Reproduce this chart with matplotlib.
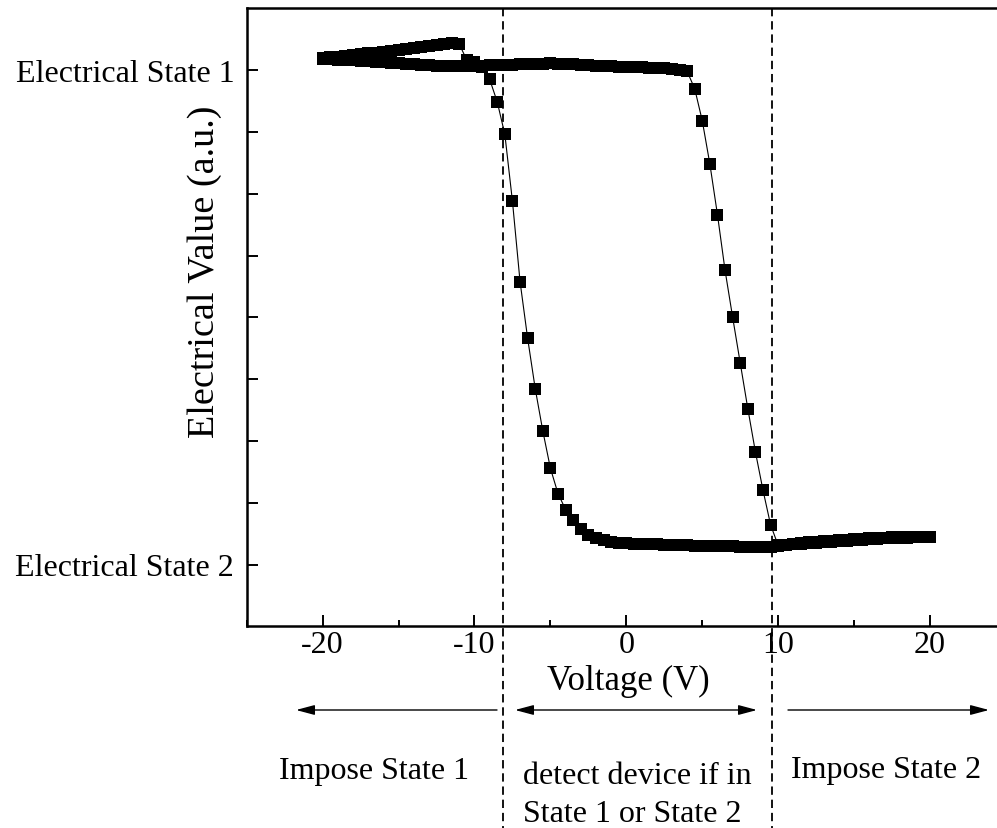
import matplotlib
matplotlib.use("Agg")
import matplotlib.pyplot as plt

plt.rcParams['font.family'] = ['Liberation Serif', 'DejaVu Serif']
plt.rcParams['axes.unicode_minus'] = False
plt.rcParams['lines.scale_dashes'] = False

# ---------------- data ----------------
# forward sweep (-20 V -> +20 V)
voltage_fwd = [-20.0, -19.5, -19.0, -18.5, -18.0, -17.5, -17.0, -16.5, -16.0, -15.5,
               -15.0, -14.5, -14.0, -13.5, -13.0, -12.5, -12.0, -11.5, -11.0, -10.5,
               -10.0, -9.5, -9.0, -8.5, -8.0, -7.5, -7.0, -6.5, -6.0, -5.5,
               -5.0, -4.5, -4.0, -3.5, -3.0, -2.5, -2.0, -1.5, -1.0, -0.5,
               0.0, 0.5, 1.0, 1.5, 2.0, 2.5, 3.0, 3.5, 4.0, 4.5,
               5.0, 5.5, 6.0, 6.5, 7.0, 7.5, 8.0, 8.5, 9.0, 9.5,
               10.0, 10.5, 11.0, 11.5, 12.0, 12.5, 13.0, 13.5, 14.0, 14.5,
               15.0, 15.5, 16.0, 16.5, 17.0, 17.5, 18.0, 18.5, 19.0, 19.5, 20.0]
value_fwd = [4.088, 4.086, 4.084, 4.082, 4.080, 4.076, 4.071, 4.067, 4.063, 4.059,
             4.055, 4.051, 4.047, 4.043, 4.039, 4.037, 4.035, 4.033, 4.031, 4.031,
             4.033, 4.035, 4.039, 4.041, 4.043, 4.045, 4.047, 4.049, 4.051, 4.053,
             4.055, 4.053, 4.051, 4.047, 4.043, 4.039, 4.035, 4.033, 4.031, 4.029,
             4.027, 4.025, 4.023, 4.021, 4.019, 4.015, 4.010, 4.002, 3.990, 3.850,
             3.590, 3.240, 2.830, 2.380, 2.000, 1.630, 1.260, 0.910, 0.600, 0.320,
             0.154, 0.158, 0.162, 0.166, 0.170, 0.174, 0.178, 0.183, 0.187, 0.191,
             0.195, 0.199, 0.203, 0.207, 0.211, 0.213, 0.215, 0.217, 0.219, 0.219, 0.219]

# backward sweep (+20 V -> -20 V)
voltage_bwd = voltage_fwd[::-1]
value_bwd = [0.219, 0.221, 0.223, 0.223, 0.223, 0.219, 0.215, 0.213, 0.211, 0.207,
             0.203, 0.199, 0.195, 0.191, 0.187, 0.183, 0.178, 0.170, 0.162, 0.154,
             0.146, 0.138, 0.140, 0.142, 0.142, 0.144, 0.146, 0.148, 0.150, 0.150,
             0.152, 0.152, 0.154, 0.156, 0.158, 0.160, 0.162, 0.164, 0.166, 0.168,
             0.170, 0.172, 0.178, 0.195, 0.211, 0.235, 0.290, 0.357, 0.444, 0.574,
             0.778, 1.080, 1.422, 1.830, 2.289, 2.938, 3.479, 3.742, 3.925, 4.023,
             4.063, 4.080, 4.209, 4.217, 4.209, 4.205, 4.197, 4.189, 4.181, 4.173,
             4.164, 4.156, 4.148, 4.140, 4.136, 4.128, 4.120, 4.112, 4.108, 4.104, 4.096]

x_major = [-20, -10, 0, 10, 20]
x_tick_labels = ['-20', '-10', '0', '10', '20']
x_minor = [-25, -15, -5, 5, 15, 25]
y_major = [0, 1, 2, 3, 4]
y_tick_labels = ['Electrical State 2', '', '', '', 'Electrical State 1']
y_minor = [0.5, 1.5, 2.5, 3.5]
boundary_voltages = [-8.15, 9.6]

# ---------------- figure ----------------
W, H = 997, 829
fig = plt.figure(figsize=(W / 100, H / 100), dpi=100)
left_px, right_px, top_px, bottom_px = 246.7, 1006.0, 9.3, 627.3
ax = fig.add_axes([left_px / W, 1 - bottom_px / H,
                   (right_px - left_px) / W, (bottom_px - top_px) / H])

for vx, vy in ((voltage_fwd, value_fwd), (voltage_bwd, value_bwd)):
    ax.plot(vx, vy, color='black', lw=0.8, marker='s', ms=8.6, mew=0,
            mfc='black', zorder=3)

ax.set_xlim(-25, 25)
ax.set_ylim(-0.5, 4.5)

ax.spines['right'].set_visible(False)
for s in ('left', 'bottom', 'top'):
    ax.spines[s].set_linewidth(1.8)

ax.set_xticks(x_major)
ax.set_xticklabels(x_tick_labels)
ax.set_xticks(x_minor, minor=True)
ax.set_yticks(y_major)
ax.set_yticklabels(y_tick_labels)
ax.set_yticks(y_minor, minor=True)
ax.tick_params(axis='both', which='both', direction='in', width=1.4,
               labelsize=23, top=False, right=False)
ax.tick_params(axis='x', which='major', length=8, pad=3)
ax.tick_params(axis='x', which='minor', length=4)
ax.tick_params(axis='y', which='major', length=8, pad=9)
ax.tick_params(axis='y', which='minor', length=8)

# dashed boundary lines extending below the axes
for bv in boundary_voltages:
    ax.plot([bv, bv], [4.5, -3.0], color='black', lw=1.3,
            dashes=(6, 3.5), clip_on=False, zorder=2)


def fx(px):
    return px / W


def fy(py):
    return 1 - py / H


# axis labels
fig.text(fx(628), fy(690), 'Voltage (V)', fontsize=25, ha='center', va='baseline')
fig.text(fx(205), fy(272), 'Electrical Value (a.u.)', fontsize=27.5,
         rotation=90, ha='center', va='center')

# arrows
arrow_y = 711
arrow_kw = dict(arrowstyle='-|>,head_length=0.75,head_width=0.2',
                color='black', lw=1.0, mutation_scale=15,
                shrinkA=0, shrinkB=0)
ax.annotate('', xy=(fx(296), fy(arrow_y)), xytext=(fx(497), fy(arrow_y)),
            xycoords='figure fraction', textcoords='figure fraction',
            arrowprops=arrow_kw)
ax.annotate('', xy=(fx(515), fy(arrow_y)), xytext=(fx(757), fy(arrow_y)),
            xycoords='figure fraction', textcoords='figure fraction',
            arrowprops=dict(arrow_kw, arrowstyle='<|-|>,head_length=0.75,head_width=0.2'))
ax.annotate('', xy=(fx(989), fy(arrow_y)), xytext=(fx(788), fy(arrow_y)),
            xycoords='figure fraction', textcoords='figure fraction',
            arrowprops=arrow_kw)

# region texts
fig.text(fx(374), fy(779), 'Impose State 1', fontsize=23, ha='center', va='baseline')
fig.text(fx(523), fy(784), 'detect device if in', fontsize=23, ha='left', va='baseline')
fig.text(fx(523), fy(822), 'State 1 or State 2', fontsize=23, ha='left', va='baseline')
fig.text(fx(886), fy(778), 'Impose State 2', fontsize=23, ha='center', va='baseline')

fig.savefig('out.png', dpi=100)
